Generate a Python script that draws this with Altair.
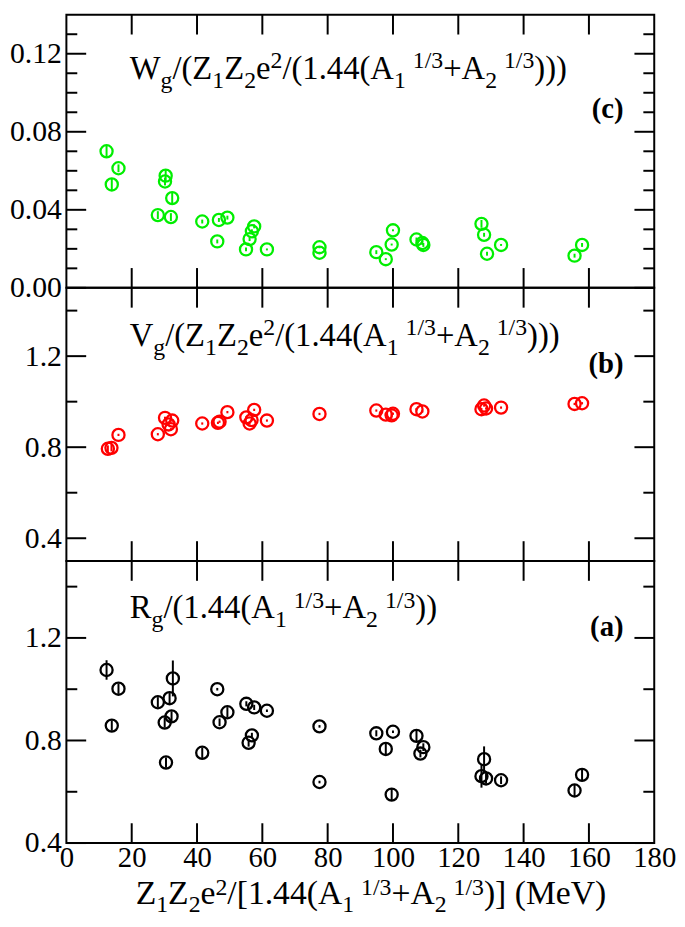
import altair as alt
import pandas as pd

# ---------------- data ----------------
# panel (c): W_g / (Z1Z2e^2/(1.44(A1^1/3+A2^1/3)))
w_x = [12.3, 15.95, 13.9, 30.4, 30.2, 32.4, 28.0, 32.0, 41.6, 46.7, 49.3, 46.2,
       57.5, 56.8, 56.1, 55.0, 61.4, 77.5, 77.5, 94.9, 97.8, 100.0, 99.6, 107.2,
       109.0, 109.3, 127.1, 127.9, 128.8, 133.1, 155.6, 157.9]
w_y = [0.070, 0.0613, 0.053, 0.0575, 0.0545, 0.046, 0.0373, 0.0363, 0.034, 0.0348,
       0.036, 0.0238, 0.0315, 0.029, 0.025, 0.0197, 0.0197, 0.0208, 0.018, 0.0183,
       0.0147, 0.0295, 0.0222, 0.0248, 0.023, 0.022, 0.0328, 0.0272, 0.0175, 0.022,
       0.0165, 0.022]
w_err = [0.003, 0.002, 0.003, 0.003, 0.002, 0.003, 0.002, 0.002, 0.001, 0.001,
         0.001, 0.001, 0.001, 0.001, 0.001, 0.001, 0.0005, 0.0005, 0.0005, 0.001,
         0.0005, 0.0005, 0.0005, 0.001, 0.001, 0.001, 0.002, 0.001, 0.001, 0.0005,
         0.001, 0.001]

# panel (b): V_g / (...)
v_x = [12.7, 13.8, 15.95, 28.0, 30.2, 32.4, 31.3, 32.0, 41.6, 46.4, 46.9, 49.3,
       55.1, 57.5, 56.1, 56.7, 61.4, 77.5, 94.9, 97.8, 99.6, 100.0, 107.2, 109.0,
       127.1, 127.9, 128.5, 133.1, 155.6, 157.9]
v_y = [0.793, 0.797, 0.854, 0.857, 0.929, 0.917, 0.900, 0.879, 0.904, 0.907,
       0.912, 0.954, 0.931, 0.964, 0.904, 0.919, 0.917, 0.946, 0.961, 0.943,
       0.940, 0.947, 0.967, 0.957, 0.967, 0.983, 0.970, 0.974, 0.990, 0.993]
v_err = [0.015, 0.015, 0.005, 0.005, 0.005, 0.005, 0.005, 0.005, 0.005, 0.005,
         0.005, 0.005, 0.005, 0.005, 0.005, 0.005, 0.005, 0.005, 0.005, 0.005,
         0.008, 0.005, 0.005, 0.005, 0.005, 0.005, 0.005, 0.005, 0.005, 0.005]

# panel (a): R_g / (1.44(A1^1/3+A2^1/3))
r_x = [12.3, 15.95, 13.9, 28.0, 31.6, 32.6, 30.1, 32.2, 30.5, 41.6, 46.2, 46.9,
       49.3, 55.1, 57.5, 61.4, 56.8, 55.8, 77.5, 77.5, 94.9, 100.0, 97.8, 99.6,
       107.2, 109.3, 108.4, 127.9, 127.1, 128.5, 133.1, 155.6, 157.9]
r_y = [1.075, 1.002, 0.858, 0.949, 0.965, 1.042, 0.870, 0.894, 0.714, 0.752,
       1.000, 0.871, 0.910, 0.943, 0.929, 0.916, 0.820, 0.791, 0.855, 0.638,
       0.828, 0.834, 0.767, 0.589, 0.818, 0.774, 0.749, 0.727, 0.661, 0.652,
       0.645, 0.605, 0.666]
r_err = [0.038, 0.02, 0.02, 0.02, 0.02, 0.07, 0.02, 0.02, 0.02, 0.02,
         0.005, 0.015, 0.02, 0.01, 0.01, 0.005, 0.01, 0.015, 0.005, 0.005,
         0.012, 0.005, 0.02, 0.025, 0.02, 0.015, 0.015, 0.05, 0.045, 0.02,
         0.015, 0.025, 0.02]

x_ticks = [0, 20, 40, 60, 80, 100, 120, 140, 160, 180]
c_major = [0.0, 0.04, 0.08, 0.12]
c_minor = [0.01, 0.02, 0.03, 0.05, 0.06, 0.07, 0.09, 0.10, 0.11, 0.13]
b_major = [0.4, 0.8, 1.2]
b_minor = [0.6, 1.0, 1.4]
a_major = [0.4, 0.8, 1.2]
a_minor = [0.6, 1.0, 1.4]

# ---------------- layout / style ----------------
W = 594
FONT = "Liberation Serif, Times New Roman, Times, serif"
TIMES = {'0': 500, '1': 500, '2': 500, '3': 500, '4': 500, '5': 500, '6': 500,
         '7': 500, '8': 500, '9': 500, '.': 250, '/': 278, '(': 333, ')': 333,
         '[': 333, ']': 333, '+': 564, ' ': 250, 'W': 944, 'V': 722, 'R': 667,
         'Z': 611, 'A': 722, 'M': 889, 'e': 444, 'g': 500}
one = pd.DataFrame({"d": [0]})
xscale = alt.Scale(domain=[0, 180], nice=False, zero=False)


def tw(s, size):
    return sum(TIMES.get(c, 500) for c in s) * size / 1000.0


def rich(segs, x0, y0, big, small, gap=7, sub=9, sup=-11):
    layers = []
    x = x0
    prev = None
    for txt, kind in segs:
        if kind == "sup" and prev == "sub":
            x += gap
        fs = big if kind == "n" else small
        dy = 0 if kind == "n" else (sub if kind == "sub" else sup)
        layers.append(
            alt.Chart(one).mark_text(align="left", baseline="alphabetic", font=FONT,
                                     fontSize=fs, color="black")
            .encode(x=alt.value(x), y=alt.value(y0 + dy), text=alt.value(txt)))
        x += tw(txt, fs)
        prev = kind
    return layers


def panel(xs, ys, errs, color, dom, major, minor, fmt, H, bottom, segs, ty, tag, tagy):
    df = pd.DataFrame({"x": xs, "y": ys, "e": errs})
    df["lo"] = df["y"] - df["e"]
    df["hi"] = df["y"] + df["e"]
    yscale = alt.Scale(domain=dom, nice=False, zero=False)
    if bottom:
        xaxis = alt.Axis(values=x_ticks, ticks=False, domain=False, grid=False,
                         labelFont=FONT, labelFontSize=29, labelColor="black",
                         labelPadding=1, labelFlush=False, labelOverlap=False,
                         title=None, format="d")
    else:
        xaxis = None
    yaxis = alt.Axis(values=major, format=fmt, ticks=False, domain=False, grid=False,
                     labelFont=FONT, labelFontSize=30, labelColor="black",
                     labelPadding=5, labelFlush=False, labelOverlap=False, title=None)
    err = alt.Chart(df).mark_rule(color=color, strokeWidth=2).encode(
        x=alt.X("x:Q", scale=xscale, axis=xaxis),
        y=alt.Y("lo:Q", scale=yscale, axis=yaxis),
        y2="hi:Q")
    pts = alt.Chart(df).mark_point(shape="circle", filled=False, color=color,
                                   strokeWidth=2.3, size=150, opacity=1).encode(
        x=alt.X("x:Q", scale=xscale),
        y=alt.Y("y:Q", scale=yscale))
    mj = pd.DataFrame({"v": major})
    mn = pd.DataFrame({"v": minor})
    xt = pd.DataFrame({"v": x_ticks[1:-1]})
    ticks = []
    for d, L in ((mj, 20), (mn, 11)):
        ticks.append(alt.Chart(d).mark_rule(color="black", strokeWidth=2).encode(
            y=alt.Y("v:Q", scale=yscale), x=alt.value(0), x2=alt.value(L)))
        ticks.append(alt.Chart(d).mark_rule(color="black", strokeWidth=2).encode(
            y=alt.Y("v:Q", scale=yscale), x=alt.value(W - L), x2=alt.value(W)))
    ticks.append(alt.Chart(xt).mark_rule(color="black", strokeWidth=2).encode(
        x=alt.X("v:Q", scale=xscale), y=alt.value(0), y2=alt.value(20)))
    ticks.append(alt.Chart(xt).mark_rule(color="black", strokeWidth=2).encode(
        x=alt.X("v:Q", scale=xscale), y=alt.value(H - 20), y2=alt.value(H)))
    texts = rich(segs, 64, ty, 33, 24)
    texts.append(alt.Chart(one).mark_text(align="right", baseline="alphabetic", font=FONT,
                                          fontSize=29, fontWeight="bold", color="black")
                 .encode(x=alt.value(W - 31), y=alt.value(tagy), text=alt.value(tag)))
    if bottom:
        texts += rich([("Z", "n"), ("1", "sub"), ("Z", "n"), ("2", "sub"), ("e", "n"),
                       ("2", "sup"), ("/[1.44(A", "n"), ("1", "sub"), ("1/3", "sup"),
                       ("+A", "n"), ("2", "sub"), ("1/3", "sup"), (")] (MeV)", "n")],
                      70, H + 62, 34, 24, gap=7, sub=8, sup=-10)
    return alt.layer(err, pts, *ticks, *texts).properties(width=W, height=H)


seg_c = [("W", "n"), ("g", "sub"), ("/(Z", "n"), ("1", "sub"), ("Z", "n"), ("2", "sub"),
         ("e", "n"), ("2", "sup"), ("/(1.44(A", "n"), ("1", "sub"), ("1/3", "sup"),
         ("+A", "n"), ("2", "sub"), ("1/3", "sup"), (")))", "n")]
seg_b = [("V", "n")] + seg_c[1:]
seg_a = [("R", "n"), ("g", "sub"), ("/(1.44(A", "n"), ("1", "sub"), ("1/3", "sup"),
         ("+A", "n"), ("2", "sub"), ("1/3", "sup"), ("))", "n")]

pc = panel(w_x, w_y, w_err, "#00ee00", [0, 0.14], c_major, c_minor, ".2f", 276, False,
           seg_c, 65, "(c)", 104)
pb = panel(v_x, v_y, v_err, "#ff0000", [0.3, 1.5], b_major, b_minor, ".1f", 276, False,
           seg_b, 59, "(b)", 86)
pa = panel(r_x, r_y, r_err, "black", [0.4, 1.5], a_major, a_minor, ".1f", 285, True,
           seg_a, 58, "(a)", 76)

chart = alt.vconcat(pc, pb, pa, spacing=0, bounds="flush").properties(
    padding={"left": 0, "top": 0, "right": 0, "bottom": 0}
).configure_view(stroke="black", strokeWidth=2).configure_axis(grid=False)

chart.save("out.html", embed_options={"renderer": "svg", "actions": False})
